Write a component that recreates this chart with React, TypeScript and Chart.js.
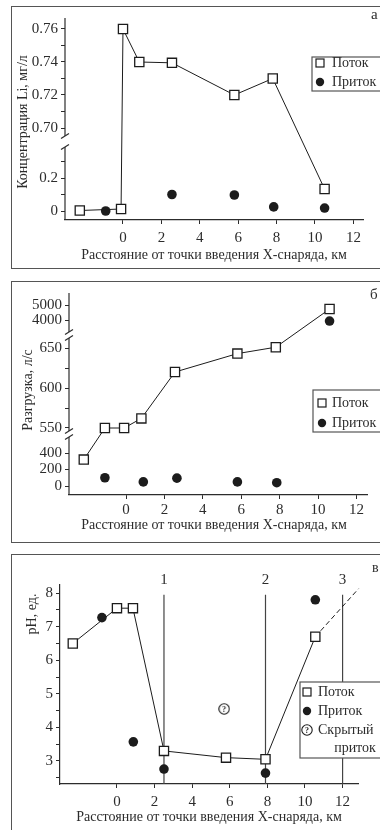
import React, { useEffect, useRef } from 'react';
import { Chart, registerables } from 'chart.js';

Chart.register(...registerables);

const FONT = '"Liberation Serif", "Times New Roman", serif';
const INK = '#1c1c1c';
const GREY = '#2c2c2c';
const W = 380;

// ---------- shared text ----------
const X_TITLE = 'Расстояние от точки введения X-снаряда, км';
const LEG_FLOW = 'Поток';
const LEG_IN = 'Приток';
const LEG_HIDDEN_1 = 'Скрытый';
const LEG_HIDDEN_2 = 'приток';
const DIST_TICKS = [0, 2, 4, 6, 8, 10, 12];

// ---------- panel а : Li concentration ----------
const A_LETTER = 'а';
const A_TITLE = 'Концентрация Li, мг/л';
const A_FLOW_X = [-2.25, -0.1, 0, 0.85, 2.55, 5.8, 7.8, 10.5];
const A_FLOW_Y = [0.003, 0.012, 0.76, 0.74, 0.7395, 0.72, 0.73, 0.133];
const A_IN_X = [-0.9, 2.55, 5.8, 7.85, 10.5];
const A_IN_Y = [0.0, 0.1, 0.097, 0.025, 0.018];
const A_TICKS = [0, 0.1, 0.2, 0.3, 0.7, 0.71, 0.72, 0.73, 0.74, 0.75, 0.76];
const A_TICK_LABELS = ['0', '', '0.2', '', '0.70', '', '0.72', '', '0.74', '', '0.76'];

// ---------- panel б : discharge ----------
const B_LETTER = 'б';
const B_TITLE = 'Разгрузка, л/с';
const B_FLOW_X = [-2.2, -1.1, -0.1, 0.8, 2.55, 5.8, 7.8, 10.6];
const B_FLOW_Y = [320, 550, 550, 562, 620, 643, 651, 4730];
const B_IN_X = [-1.1, 0.9, 2.65, 5.8, 7.85, 10.6];
const B_IN_Y = [100, 50, 95, 50, 40, 3930];
const B_TICKS = [0, 200, 400, 550, 575, 600, 625, 650, 4000, 5000];
const B_TICK_LABELS = ['0', '200', '400', '550', '', '600', '', '650', '4000', '5000'];

// ---------- panel в : pH ----------
const C_LETTER = 'в';
const C_TITLE = 'pH, ед.';
const C_FLOW_X = [-2.35, 0, 0.85, 2.5, 5.8, 7.9, 10.55];
const C_FLOW_Y = [6.5, 7.55, 7.55, 3.3, 3.1, 3.05, 6.7];
const C_IN_X = [-0.8, 0.87, 2.5, 7.9, 10.55];
const C_IN_Y = [7.27, 3.57, 2.76, 2.64, 7.8];
const C_HIDDEN_X = [5.7];
const C_HIDDEN_Y = [4.55];
const C_TREND_X = [10.55, 12.85];
const C_TREND_Y = [6.7, 8.13];
const C_ZONE_X = [2.5, 7.9, 12];
const C_ZONE_LABELS = ['1', '2', '3'];
const C_ZONE_TOP = 7.95;
const C_Y_MIN = 2.315;
const C_Y_MAX = 8.24;
const C_TICKS = [2.5, 3, 3.5, 4, 4.5, 5, 5.5, 6, 6.5, 7, 7.5, 8];
const C_TICK_LABELS = ['', '3', '', '4', '', '5', '', '6', '', '7', '', '8'];

// ---------- broken-axis helpers ----------
type Seg = { min: number; max: number; ref: number; at: number; k: number; from: number; to: number };
const A_SEGS: Seg[] = [
  { min: -Infinity, max: 0.5, ref: 0, at: 9, k: 165, from: 0, to: 73 },
  { min: 0.5, max: Infinity, ref: 0.7, at: 92, k: 1650, from: 84, to: 202 },
];
const B_SEGS: Seg[] = [
  { min: -Infinity, max: 500, ref: 0, at: 9, k: 0.0825, from: 0, to: 58 },
  { min: 500, max: 1000, ref: 550, at: 67, k: 0.8, from: 64, to: 157 },
  { min: 1000, max: Infinity, ref: 4000, at: 175, k: 0.015, from: 163, to: 202 },
];
const mapper = (segs: Seg[]) => (v: number) => {
  const s = segs.find((g) => v >= g.min && v < g.max)!;
  return s.at + (v - s.ref) * s.k;
};
const ident = (v: number) => v;
const pts = (xs: number[], ys: number[], f: (v: number) => number = ident) =>
  xs.map((x, i) => ({ x, y: f(ys[i]) }));

function flowDs(data: any[]) {
  return {
    data,
    showLine: true,
    borderColor: INK,
    borderWidth: 1,
    pointStyle: 'rect',
    pointRadius: 6.5,
    pointBorderWidth: 1.3,
    pointBackgroundColor: '#ffffff',
    pointBorderColor: INK,
  };
}
function inDs(data: any[]) {
  return {
    data,
    showLine: false,
    pointStyle: 'circle',
    pointRadius: 4.8,
    pointBorderWidth: 0,
    pointBackgroundColor: INK,
    pointBorderColor: INK,
  };
}

function makeHiddenIcon(d: number) {
  const c = document.createElement('canvas');
  c.width = d;
  c.height = d;
  const g = c.getContext('2d')!;
  g.fillStyle = '#ffffff';
  g.beginPath();
  g.arc(d / 2, d / 2, d / 2 - 0.8, 0, Math.PI * 2);
  g.fill();
  g.strokeStyle = INK;
  g.lineWidth = 1.1;
  g.stroke();
  g.fillStyle = INK;
  g.font = `bold ${Math.round(d * 0.7)}px ${FONT}`;
  g.textAlign = 'center';
  g.textBaseline = 'middle';
  g.fillText('?', d / 2, d / 2 + 0.6);
  return c;
}

// ---------- drawing helpers ----------
function text(ctx: CanvasRenderingContext2D, s: string, x: number, y: number, size: number, align: CanvasTextAlign = 'center') {
  ctx.save();
  ctx.font = `${size}px ${FONT}`;
  ctx.fillStyle = GREY;
  ctx.textAlign = align;
  ctx.textBaseline = 'middle';
  ctx.fillText(s, x, y);
  ctx.restore();
}
function vText(ctx: CanvasRenderingContext2D, s: string, x: number, y: number, size: number) {
  ctx.save();
  ctx.translate(x, y);
  ctx.rotate(-Math.PI / 2);
  text(ctx, s, 0, 0, size);
  ctx.restore();
}
function brokenAxis(chart: any, segs: Seg[]) {
  const ctx: CanvasRenderingContext2D = chart.ctx;
  const y = chart.scales.y;
  const x = chart.chartArea.left;
  ctx.save();
  ctx.strokeStyle = GREY;
  ctx.lineWidth = 1.2;
  segs.forEach((s, i) => {
    const y0 = y.getPixelForValue(s.from);
    const y1 = y.getPixelForValue(s.to);
    ctx.beginPath();
    ctx.moveTo(x, y0);
    ctx.lineTo(x, y1);
    ctx.stroke();
    const marks: number[] = [];
    if (i > 0) marks.push(y0);
    if (i < segs.length - 1) marks.push(y1);
    marks.forEach((m) => {
      ctx.beginPath();
      ctx.moveTo(x - 4, m + 2.5);
      ctx.lineTo(x + 4, m - 2.5);
      ctx.stroke();
    });
  });
  ctx.restore();
}
function legendBox(ctx: CanvasRenderingContext2D, x: number, y: number, w: number, h: number) {
  ctx.save();
  ctx.fillStyle = '#ffffff';
  ctx.fillRect(x, y, w, h);
  ctx.strokeStyle = '#555';
  ctx.lineWidth = 1.2;
  ctx.strokeRect(x, y, w, h);
  ctx.restore();
}
function legSquare(ctx: CanvasRenderingContext2D, x: number, y: number) {
  ctx.save();
  ctx.strokeStyle = INK;
  ctx.lineWidth = 1.2;
  ctx.strokeRect(x - 4, y - 4, 8, 8);
  ctx.restore();
}
function legDot(ctx: CanvasRenderingContext2D, x: number, y: number) {
  ctx.save();
  ctx.fillStyle = INK;
  ctx.beginPath();
  ctx.arc(x, y, 4.2, 0, Math.PI * 2);
  ctx.fill();
  ctx.restore();
}

// ---------- chart builder ----------
type Spec = {
  top: number;
  height: number;
  area: { left: number; right: number; top: number; bottom: number };
  xMin: number;
  xMax: number;
  yMin: number;
  yMax: number;
  yTicks: number[];
  yLabels: string[];
  yBorder: boolean;
  xPad: number;
  datasets: () => any[];
  decorate: (chart: any) => void;
};

function build(canvas: HTMLCanvasElement, spec: Spec) {
  const { area, height } = spec;
  const tickFont = { family: FONT, size: 15 };
  return new Chart(canvas, {
    type: 'scatter',
    data: { datasets: spec.datasets() },
    options: {
      responsive: false,
      animation: false,
      devicePixelRatio: 1,
      events: [],
      layout: { padding: { left: 0, top: area.top, right: W - area.right, bottom: 0 } },
      plugins: { legend: { display: false }, tooltip: { enabled: false } },
      scales: {
        x: {
          type: 'linear',
          position: 'bottom',
          min: spec.xMin,
          max: spec.xMax,
          afterFit: (s: any) => {
            s.height = height - area.bottom;
          },
          afterBuildTicks: (s: any) => {
            s.ticks = DIST_TICKS.map((v) => ({ value: v }));
          },
          ticks: {
            font: tickFont,
            color: GREY,
            padding: spec.xPad,
            maxRotation: 0,
            autoSkip: false,
            callback: (v: any) => String(v),
          },
          grid: { display: true, drawOnChartArea: false, drawTicks: true, tickLength: 4, color: GREY, lineWidth: 1 },
          border: { display: true, color: GREY, width: 1.2 },
        },
        y: {
          type: 'linear',
          min: spec.yMin,
          max: spec.yMax,
          afterFit: (s: any) => {
            s.width = area.left;
          },
          afterBuildTicks: (s: any) => {
            s.ticks = spec.yTicks.map((v) => ({ value: v }));
          },
          ticks: {
            font: tickFont,
            color: GREY,
            padding: 3,
            autoSkip: false,
            callback: (_v: any, i: number) => spec.yLabels[i],
          },
          grid: { display: true, drawOnChartArea: false, drawTicks: true, tickLength: 4, color: GREY, lineWidth: 1 },
          border: { display: spec.yBorder, color: GREY, width: 1.2 },
        },
      },
    } as any,
    plugins: [{ id: 'deco', afterDraw: (c: any) => spec.decorate(c) }],
  });
}

const mapA = mapper(A_SEGS);
const mapB = mapper(B_SEGS);

const SPEC_A: Spec = {
  top: 0,
  height: 275,
  area: { left: 65, right: 363, top: 18, bottom: 220 },
  xMin: -3.02,
  xMax: 12.5,
  yMin: 0,
  yMax: 202,
  yTicks: A_TICKS.map(mapA),
  yLabels: A_TICK_LABELS,
  yBorder: false,
  xPad: 5,
  datasets: () => [flowDs(pts(A_FLOW_X, A_FLOW_Y, mapA)), inDs(pts(A_IN_X, A_IN_Y, mapA))],
  decorate: (chart) => {
    const ctx = chart.ctx;
    brokenAxis(chart, A_SEGS);
    vText(ctx, A_TITLE, 23, 122, 14);
    text(ctx, X_TITLE, 214, 255, 14);
    text(ctx, A_LETTER, 371, 15, 15, 'left');
    legendBox(ctx, 312, 57, 80, 34);
    legSquare(ctx, 320, 63);
    text(ctx, LEG_FLOW, 332, 63, 14, 'left');
    legDot(ctx, 320, 82);
    text(ctx, LEG_IN, 332, 82, 14, 'left');
  },
};

const SPEC_B: Spec = {
  top: 275,
  height: 275,
  area: { left: 69, right: 367, top: 18, bottom: 220 },
  xMin: -2.97,
  xMax: 12.55,
  yMin: 0,
  yMax: 202,
  yTicks: B_TICKS.map(mapB),
  yLabels: B_TICK_LABELS,
  yBorder: false,
  xPad: 2,
  datasets: () => [flowDs(pts(B_FLOW_X, B_FLOW_Y, mapB)), inDs(pts(B_IN_X, B_IN_Y, mapB))],
  decorate: (chart) => {
    const ctx = chart.ctx;
    brokenAxis(chart, B_SEGS);
    vText(ctx, B_TITLE, 28, 115, 14);
    text(ctx, X_TITLE, 214, 250, 14);
    text(ctx, B_LETTER, 370, 20, 15, 'left');
    legendBox(ctx, 313, 115, 80, 42);
    legSquare(ctx, 322, 128);
    text(ctx, LEG_FLOW, 332, 128, 14, 'left');
    legDot(ctx, 322, 148);
    text(ctx, LEG_IN, 332, 148, 14, 'left');
  },
};

let hiddenIcon: HTMLCanvasElement | null = null;
const getHiddenIcon = () => (hiddenIcon = hiddenIcon || makeHiddenIcon(12));

const SPEC_C: Spec = {
  top: 550,
  height: 280,
  area: { left: 60, right: 358, top: 35, bottom: 234 },
  xMin: -3.03,
  xMax: 12.82,
  yMin: C_Y_MIN,
  yMax: C_Y_MAX,
  yTicks: C_TICKS,
  yLabels: C_TICK_LABELS,
  yBorder: true,
  xPad: 5,
  datasets: () => [
    flowDs(pts(C_FLOW_X, C_FLOW_Y)),
    inDs(pts(C_IN_X, C_IN_Y)),
    {
      data: pts(C_HIDDEN_X, C_HIDDEN_Y),
      showLine: false,
      pointStyle: getHiddenIcon(),
      pointRadius: 6,
    },
    {
      data: pts(C_TREND_X, C_TREND_Y),
      showLine: true,
      borderColor: INK,
      borderWidth: 1,
      borderDash: [5, 3],
      pointRadius: 0,
      clip: false,
    },
    ...C_ZONE_X.map((zx) => ({
      data: [
        { x: zx, y: C_Y_MIN },
        { x: zx, y: C_ZONE_TOP },
      ],
      showLine: true,
      borderColor: '#444',
      borderWidth: 1.2,
      pointRadius: 0,
    })),
  ],
  decorate: (chart) => {
    const ctx = chart.ctx;
    const xs = chart.scales.x;
    C_ZONE_X.forEach((zx, i) => text(ctx, C_ZONE_LABELS[i], xs.getPixelForValue(zx), 30, 15));
    vText(ctx, C_TITLE, 32, 64, 14);
    text(ctx, X_TITLE, 209, 267, 14);
    text(ctx, C_LETTER, 372, 18, 14, 'left');
    legendBox(ctx, 300, 132, 85, 76);
    legSquare(ctx, 307, 142);
    text(ctx, LEG_FLOW, 318, 142, 14, 'left');
    legDot(ctx, 307, 161);
    text(ctx, LEG_IN, 318, 161, 14, 'left');
    ctx.drawImage(getHiddenIcon(), 307 - 6, 180 - 6);
    text(ctx, LEG_HIDDEN_1, 318, 180, 14, 'left');
    text(ctx, LEG_HIDDEN_2, 355, 198, 14);
  },
};

function Panel({ spec }: { spec: Spec }) {
  const ref = useRef<HTMLCanvasElement>(null);
  useEffect(() => {
    const chart = build(ref.current!, spec);
    return () => chart.destroy();
  }, [spec]);
  return (
    <canvas
      ref={ref}
      width={W}
      height={spec.height}
      style={{ position: 'absolute', left: 0, top: spec.top, width: W, height: spec.height }}
    />
  );
}

const boxStyle = (top: number, height: number): React.CSSProperties => ({
  position: 'absolute',
  left: 11,
  top,
  width: 380,
  height,
  border: '1.5px solid #555',
  boxSizing: 'border-box',
});

export default function App() {
  return (
    <div style={{ position: 'absolute', left: 0, top: 0, width: W, height: 830, background: '#fff', overflow: 'hidden' }}>
      <div style={boxStyle(6, 263)} />
      <div style={boxStyle(281, 262)} />
      <div style={boxStyle(554, 290)} />
      <Panel spec={SPEC_A} />
      <Panel spec={SPEC_B} />
      <Panel spec={SPEC_C} />
    </div>
  );
}
